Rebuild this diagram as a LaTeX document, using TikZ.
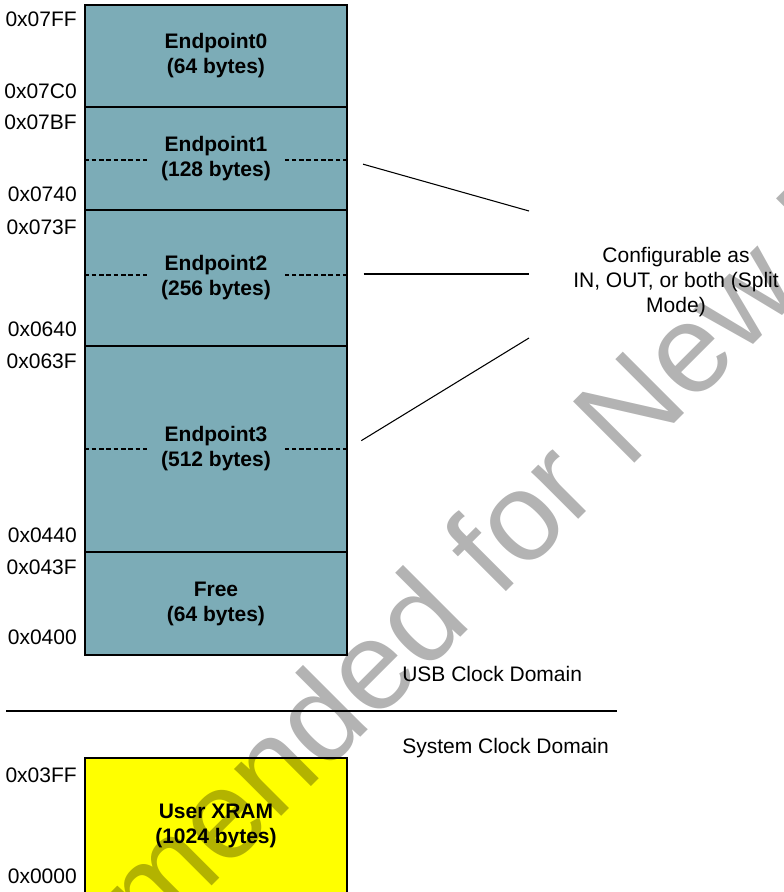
\documentclass[tikz,border=0pt]{standalone}
\usepackage{fontspec}
\setmainfont{Liberation Sans}
\usetikzlibrary{positioning}
\definecolor{epteal}{RGB}{124,172,183}
\definecolor{xramyellow}{RGB}{255,255,0}
\definecolor{wmgray}{RGB}{179,179,179}

\tikzset{
  region/.style={draw=black, line width=1pt, minimum width=196.5pt,
                 inner sep=0pt, align=center,
                 font=\fontsize{15.75}{18.75}\selectfont\bfseries},
  lowered/.style={execute at begin node={\rule{0pt}{15.3pt}}},
  addr/.style={anchor=east, inner sep=0pt,
               font=\fontsize{15.75}{18.75}\selectfont},
  note/.style={inner sep=0pt, font=\fontsize{15.75}{18.75}\selectfont},
  halfdash/.style={line width=1.3pt, dash pattern=on 3.5pt off 2pt},
  link/.style={line width=0.8pt},
  wmark/.style={inner sep=0pt, text=wmgray,
                font=\fontsize{94.5}{100}\selectfont}
}

\begin{document}
\begin{tikzpicture}[x=0.75pt, y=-0.75pt]
    \useasboundingbox (0,0) rectangle (784,892);
    \clip (0,0) rectangle (784,892);

    % endpoint buffers
    \node[region, lowered, fill=epteal, minimum height=76.5pt] (ep0) at (216,56)
      {Endpoint0\\(64 bytes)};
    \node[region, lowered, fill=epteal, minimum height=77.25pt] (ep1) at (216,158.5)
      {Endpoint1\\(128 bytes)};
    \node[region, fill=epteal, minimum height=102pt] (ep2) at (216,278)
      {Endpoint2\\(256 bytes)};
    \node[region, lowered, fill=epteal, minimum height=154.5pt] (ep3) at (216,449)
      {Endpoint3\\(512 bytes)};
    \node[region, lowered, fill=epteal, minimum height=77.25pt] (free) at (216,603.5)
      {Free\\(64 bytes)};
    \node[region, lowered, fill=xramyellow, minimum height=101.25pt] (xram) at (216,825.5)
      {User XRAM\\(1024 bytes)};

    % split lines
    \draw[halfdash] ([yshift=-1pt]ep1.west) -- ++(63,0);
    \draw[halfdash] ([yshift=-1pt]ep1.east) -- ++(-63,0);
    \draw[halfdash] ([yshift=2.25pt]ep2.west) -- ++(63,0);
    \draw[halfdash] ([yshift=2.25pt]ep2.east) -- ++(-63,0);
    \draw[halfdash] (ep3.west) -- ++(63,0);
    \draw[halfdash] (ep3.east) -- ++(-63,0);

    % addresses
    \node[addr] (a07FF) at (77,19.5) {0x07FF};
    \node[addr] (a07C0) at (77,91) {0x07C0};
    \node[addr] (a07BF) at (77,122.5) {0x07BF};
    \node[addr] (a0740) at (77,194) {0x0740};
    \node[addr] (a073F) at (77,227.5) {0x073F};
    \node[addr] (a0640) at (77,329) {0x0640};
    \node[addr] (a063F) at (77,361) {0x063F};
    \node[addr] (a0440) at (77,535) {0x0440};
    \node[addr] (a043F) at (77,567) {0x043F};
    \node[addr] (a0400) at (77,637) {0x0400};
    \node[addr] (a03FF) at (77,775) {0x03FF};
    \node[addr] (a0000) at (77,876) {0x0000};

    % configurable note
    \node[note, align=center] (cfg) at (676,282.5)
      {Configurable as\\IN, OUT, or both (Split\\Mode)};
    \coordinate (cin1) at (529,211);
    \coordinate (cin2) at (529,274);
    \coordinate (cin3) at (529,338);
    \draw[link, shorten <=12pt] ([yshift=-1pt]ep1.east) -- (cin1);
    \draw[link, shorten <=12pt] (ep2.east |- cin2) -- (cin2);
    \draw[link, shorten <=12pt] (ep3.east) -- (cin3);

    % clock domains
    \node[note, anchor=west] (usb) at (402,674) {USB Clock Domain};
    \node[note, anchor=west] (sys) at (402,748) {System Clock Domain};
    \coordinate (dl) at (6,711);
    \coordinate (dr) at (617,711);
    \draw[link] (dl) -- (dr);

    % watermark
    \begin{scope}[blend mode=multiply]
      \node[wmark, rotate=45, anchor=base west] (wm) at (-294,1392)
        {Not Recommended for New Designs};
    \end{scope}
  \end{tikzpicture}
\end{document}
